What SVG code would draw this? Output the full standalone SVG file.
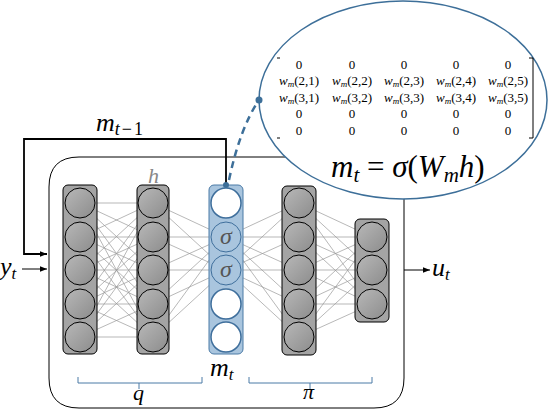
<svg xmlns="http://www.w3.org/2000/svg" width="550" height="410" viewBox="0 0 550 410" font-family="'Liberation Serif', 'DejaVu Serif', serif">
<defs>
<linearGradient id="gg" x1="0" y1="0" x2="1" y2="1">
<stop offset="0" stop-color="#b8b8b8"/>
<stop offset="1" stop-color="#8c8c8c"/>
</linearGradient>
<marker id="ah" viewBox="0 0 10 10" refX="10" refY="5" markerWidth="7" markerHeight="7" markerUnits="userSpaceOnUse" orient="auto">
<path d="M0,1 L10,5 L0,9 Z" fill="#000"/>
</marker>
</defs>
<style>
text{font-family:'Liberation Serif','DejaVu Serif',serif}
.math{font-style:italic;fill:#000}
.up{font-style:normal}
.grect{fill:#a4a4a4;stroke:#000;stroke-width:1}
.gc{fill:url(#gg);stroke:#000;stroke-width:1}
.brect{fill:#a9c5de;stroke:#4a7aa6;stroke-width:1}
.wc{fill:#fff;stroke:#3f6f9c;stroke-width:1.5}
.sc{fill:#a9c5de;stroke:#3f6f9c;stroke-width:1}
.conn line{stroke:#999;stroke-width:0.7}
.brace{fill:none;stroke:#4a7aa6;stroke-width:1}
.mx{font-size:13px;fill:#000;text-anchor:middle}
</style>

<g id="frame">
<path d="M79,157 H404 V378 Q404,408 374,408 H79 Q49,408 49,378 V187 Q49,157 79,157 Z" fill="none" stroke="#000" stroke-width="1"/>
</g>

<g id="connectors" class="conn">
<line x1="80" y1="203" x2="153" y2="203"/><line x1="80" y1="203" x2="153" y2="237"/><line x1="80" y1="203" x2="153" y2="270"/><line x1="80" y1="203" x2="153" y2="304"/><line x1="80" y1="203" x2="153" y2="337"/>
<line x1="80" y1="237" x2="153" y2="203"/><line x1="80" y1="237" x2="153" y2="237"/><line x1="80" y1="237" x2="153" y2="270"/><line x1="80" y1="237" x2="153" y2="304"/><line x1="80" y1="237" x2="153" y2="337"/>
<line x1="80" y1="270" x2="153" y2="203"/><line x1="80" y1="270" x2="153" y2="237"/><line x1="80" y1="270" x2="153" y2="270"/><line x1="80" y1="270" x2="153" y2="304"/><line x1="80" y1="270" x2="153" y2="337"/>
<line x1="80" y1="304" x2="153" y2="203"/><line x1="80" y1="304" x2="153" y2="237"/><line x1="80" y1="304" x2="153" y2="270"/><line x1="80" y1="304" x2="153" y2="304"/><line x1="80" y1="304" x2="153" y2="337"/>
<line x1="80" y1="337" x2="153" y2="203"/><line x1="80" y1="337" x2="153" y2="237"/><line x1="80" y1="337" x2="153" y2="270"/><line x1="80" y1="337" x2="153" y2="304"/><line x1="80" y1="337" x2="153" y2="337"/>
<line x1="153" y1="203" x2="226" y2="237"/><line x1="153" y1="203" x2="226" y2="270"/>
<line x1="153" y1="237" x2="226" y2="237"/><line x1="153" y1="237" x2="226" y2="270"/>
<line x1="153" y1="270" x2="226" y2="237"/><line x1="153" y1="270" x2="226" y2="270"/>
<line x1="153" y1="304" x2="226" y2="237"/><line x1="153" y1="304" x2="226" y2="270"/>
<line x1="153" y1="337" x2="226" y2="237"/><line x1="153" y1="337" x2="226" y2="270"/>
<line x1="226" y1="237" x2="299" y2="203"/><line x1="226" y1="237" x2="299" y2="237"/><line x1="226" y1="237" x2="299" y2="270"/><line x1="226" y1="237" x2="299" y2="304"/><line x1="226" y1="237" x2="299" y2="337"/>
<line x1="226" y1="270" x2="299" y2="203"/><line x1="226" y1="270" x2="299" y2="237"/><line x1="226" y1="270" x2="299" y2="270"/><line x1="226" y1="270" x2="299" y2="304"/><line x1="226" y1="270" x2="299" y2="337"/>
<line x1="299" y1="203" x2="372" y2="237"/><line x1="299" y1="203" x2="372" y2="270"/><line x1="299" y1="203" x2="372" y2="304"/>
<line x1="299" y1="237" x2="372" y2="237"/><line x1="299" y1="237" x2="372" y2="270"/><line x1="299" y1="237" x2="372" y2="304"/>
<line x1="299" y1="270" x2="372" y2="237"/><line x1="299" y1="270" x2="372" y2="270"/><line x1="299" y1="270" x2="372" y2="304"/>
<line x1="299" y1="304" x2="372" y2="237"/><line x1="299" y1="304" x2="372" y2="270"/><line x1="299" y1="304" x2="372" y2="304"/>
<line x1="299" y1="337" x2="372" y2="237"/><line x1="299" y1="337" x2="372" y2="270"/><line x1="299" y1="337" x2="372" y2="304"/>
</g>

<g id="layer1">
<rect class="grect" x="63" y="185" width="34" height="169" rx="5"/>
<circle class="gc" cx="80" cy="203" r="15"/><circle class="gc" cx="80" cy="237" r="15"/><circle class="gc" cx="80" cy="270" r="15"/><circle class="gc" cx="80" cy="304" r="15"/><circle class="gc" cx="80" cy="337" r="15"/>
</g>
<g id="layer-h">
<rect class="grect" x="137" y="185" width="32" height="169" rx="5"/>
<circle class="gc" cx="153" cy="203" r="15"/><circle class="gc" cx="153" cy="237" r="15"/><circle class="gc" cx="153" cy="270" r="15"/><circle class="gc" cx="153" cy="304" r="15"/><circle class="gc" cx="153" cy="337" r="15"/>
<text class="math" x="148" y="183" font-size="22" style="fill:#888">h</text>
</g>
<g id="layer-m">
<rect class="brect" x="209" y="185" width="34" height="169" rx="5"/>
<circle class="wc" cx="226" cy="203" r="15"/>
<circle class="sc" cx="226" cy="237" r="15"/>
<circle class="sc" cx="226" cy="270" r="15"/>
<circle class="wc" cx="226" cy="304" r="15"/>
<circle class="wc" cx="226" cy="337" r="15"/>
<text class="math" x="226" y="244" font-size="24" text-anchor="middle" style="fill:#555">σ</text>
<text class="math" x="226" y="277" font-size="24" text-anchor="middle" style="fill:#555">σ</text>
<text class="math" x="210" y="376" font-size="26">m<tspan font-size="17" dy="4">t</tspan></text>
</g>
<g id="layer4">
<rect class="grect" x="282" y="186" width="34" height="169" rx="5"/>
<circle class="gc" cx="299" cy="203" r="15"/><circle class="gc" cx="299" cy="237" r="15"/><circle class="gc" cx="299" cy="270" r="15"/><circle class="gc" cx="299" cy="304" r="15"/><circle class="gc" cx="299" cy="337" r="15"/>
</g>
<g id="layer5">
<rect class="grect" x="355" y="219" width="34" height="103" rx="5"/>
<circle class="gc" cx="372" cy="237" r="15"/><circle class="gc" cx="372" cy="270" r="15"/><circle class="gc" cx="372" cy="304" r="15"/>
</g>

<g id="braces">
<path class="brace" d="M78,377 V383 H202 V377 M139,383 V389"/>
<path class="brace" d="M249,377 V383 H372 V377 M310,383 V389"/>
<text class="math" x="133" y="400" font-size="22">q</text>
<text class="math" x="303" y="399" font-size="22">π</text>
</g>

<g id="io">
<path d="M226,185 V139 H24 V254 H47" fill="none" stroke="#000" stroke-width="1.8" marker-end="url(#ah)"/>
<line x1="22" y1="269" x2="47" y2="269" stroke="#000" stroke-width="1" marker-end="url(#ah)"/>
<line x1="404" y1="270" x2="430" y2="270" stroke="#000" stroke-width="1" marker-end="url(#ah)"/>
<text class="math" x="96" y="131" font-size="26">m<tspan font-size="18" dy="4">t</tspan><tspan class="up" font-size="18" dx="2">−</tspan><tspan class="up" font-size="18" dx="2">1</tspan></text>
<text class="math" x="0" y="275" font-size="26">y<tspan font-size="17" dy="4">t</tspan></text>
<text class="math" x="432" y="276" font-size="26">u<tspan font-size="17" dy="4">t</tspan></text>
<circle cx="226" cy="185" r="3" fill="#3d6f99"/>
</g>

<g id="callout">
<ellipse cx="403" cy="100" rx="144" ry="99" fill="#fff" stroke="#3d6f99" stroke-width="1.5"/>
<path d="M229,180 Q240,128 259,100" fill="none" stroke="#3d6f99" stroke-width="2.5" stroke-dasharray="7,5"/>
<circle cx="259" cy="100" r="3.5" fill="#3d6f99"/>
<path d="M277,58 H280 M277,138 H280" stroke="#000" stroke-width="1"/>
<path d="M529,58 H533 V138 H529" fill="none" stroke="#000" stroke-width="1"/>
<g class="mx">
<text x="299" y="69">0</text><text x="352" y="69">0</text><text x="404" y="69">0</text><text x="456" y="69">0</text><text x="508" y="69">0</text>
<text x="299" y="85"><tspan font-style="italic">w</tspan><tspan font-style="italic" font-size="9" dy="2">m</tspan><tspan dy="-2">(2,1)</tspan></text>
<text x="352" y="85"><tspan font-style="italic">w</tspan><tspan font-style="italic" font-size="9" dy="2">m</tspan><tspan dy="-2">(2,2)</tspan></text>
<text x="404" y="85"><tspan font-style="italic">w</tspan><tspan font-style="italic" font-size="9" dy="2">m</tspan><tspan dy="-2">(2,3)</tspan></text>
<text x="456" y="85"><tspan font-style="italic">w</tspan><tspan font-style="italic" font-size="9" dy="2">m</tspan><tspan dy="-2">(2,4)</tspan></text>
<text x="508" y="85"><tspan font-style="italic">w</tspan><tspan font-style="italic" font-size="9" dy="2">m</tspan><tspan dy="-2">(2,5)</tspan></text>
<text x="299" y="102"><tspan font-style="italic">w</tspan><tspan font-style="italic" font-size="9" dy="2">m</tspan><tspan dy="-2">(3,1)</tspan></text>
<text x="352" y="102"><tspan font-style="italic">w</tspan><tspan font-style="italic" font-size="9" dy="2">m</tspan><tspan dy="-2">(3,2)</tspan></text>
<text x="404" y="102"><tspan font-style="italic">w</tspan><tspan font-style="italic" font-size="9" dy="2">m</tspan><tspan dy="-2">(3,3)</tspan></text>
<text x="456" y="102"><tspan font-style="italic">w</tspan><tspan font-style="italic" font-size="9" dy="2">m</tspan><tspan dy="-2">(3,4)</tspan></text>
<text x="508" y="102"><tspan font-style="italic">w</tspan><tspan font-style="italic" font-size="9" dy="2">m</tspan><tspan dy="-2">(3,5)</tspan></text>
<text x="299" y="118">0</text><text x="352" y="118">0</text><text x="404" y="118">0</text><text x="456" y="118">0</text><text x="508" y="118">0</text>
<text x="299" y="135">0</text><text x="352" y="135">0</text><text x="404" y="135">0</text><text x="456" y="135">0</text><text x="508" y="135">0</text>
</g>
<text class="math" x="331" y="177" font-size="31">m<tspan font-size="21" dy="5">t</tspan><tspan class="up" dy="-5"> = </tspan>σ<tspan class="up">(</tspan>W<tspan font-size="21" dy="5">m</tspan><tspan dy="-5">h</tspan><tspan class="up">)</tspan></text>
</g>
</svg>
